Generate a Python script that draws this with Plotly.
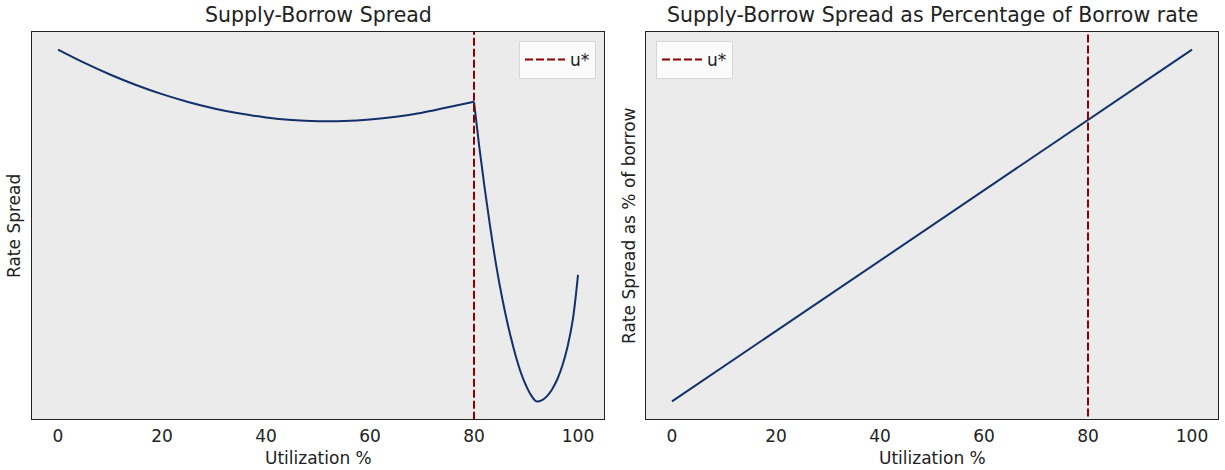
import plotly.graph_objects as go
from plotly.subplots import make_subplots

# ---- data (arbitrary spread units) ----
util_left_low = [0, 5, 10, 15, 20, 25, 30, 35, 40, 45, 50, 55, 60, 65, 70, 75, 80]
spread_left_low = [-0.481, -0.612, -0.731, -0.836, -0.928, -1.006, -1.071, -1.123, -1.162,
                   -1.187, -1.199, -1.198, -1.183, -1.155, -1.114, -1.059, -1.005]
util_left_high = [80, 81, 82, 83, 84, 85, 86, 87, 88, 89, 90, 91, 92, 93, 94, 95, 96, 97,
                  98, 99, 100]
spread_left_high = [-1.005, -1.45, -1.85, -2.22, -2.56, -2.86, -3.12, -3.35, -3.55, -3.72,
                    -3.85, -3.95, -4.01, -4.00, -3.96, -3.89, -3.79, -3.65, -3.46, -3.19,
                    -2.74]

util_right = [0, 20, 40, 60, 80, 100]
spread_pct_right = [-100.0, -82.0, -64.0, -46.0, -28.0, -10.0]

u_star = 80
x_ticks = [0, 20, 40, 60, 80, 100]

title_left = "Supply-Borrow Spread"
title_right = "Supply-Borrow Spread as Percentage of Borrow rate"
ylabel_left = "Rate Spread"
ylabel_right = "Rate Spread as % of borrow"
xlabel = "Utilization %"

# ---- figure ----
W, H = 1225, 470
FONT = "DejaVu Sans"
TXT = "#222222"
LINE_C = "#12306a"
DASH_C = "#8b0000"
BG = "#ebebeb"
FS = 17
FS_TITLE = 20.5


def px_x(p):
    return p / W


def px_y(p):
    return 1 - p / H


fig = make_subplots(rows=1, cols=2)

fig.add_trace(go.Scatter(x=util_left_low, y=spread_left_low, mode="lines",
                         line=dict(color=LINE_C, width=2, shape="spline"),
                         showlegend=False, hoverinfo="skip"), row=1, col=1)
fig.add_trace(go.Scatter(x=util_left_high, y=spread_left_high, mode="lines",
                         line=dict(color=LINE_C, width=2, shape="spline"),
                         showlegend=False, hoverinfo="skip"), row=1, col=1)
fig.add_trace(go.Scatter(x=util_right, y=spread_pct_right, mode="lines",
                         line=dict(color=LINE_C, width=2), showlegend=False,
                         hoverinfo="skip"), row=1, col=2)

all_left = spread_left_low + spread_left_high


def padded(vals, frac=0.05):
    lo, hi = min(vals), max(vals)
    pad = (hi - lo) * frac
    return lo - pad, hi + pad


yl = padded(all_left)
yr = padded(spread_pct_right)
xr = padded(util_left_low + util_left_high)


def vline_trace(ymin, ymax, xa, ya, legend):
    return go.Scatter(x=[u_star, u_star], y=[ymin, ymax], mode="lines",
                      line=dict(color=DASH_C, width=2, dash="8px,3px"),
                      name="u*", xaxis=xa, yaxis=ya, legend=legend,
                      hoverinfo="skip")


fig.add_trace(vline_trace(yl[0] - 1, yl[1] + 1, "x", "y", "legend"))
fig.add_trace(vline_trace(yr[0] - 50, yr[1] + 50, "x2", "y2", "legend2"))

left_dom = [px_x(32), px_x(604)]
right_dom = [px_x(646), px_x(1218)]
y_dom = [px_y(419), px_y(32)]

axis_common = dict(showgrid=False, zeroline=False, showline=True, linecolor=TXT,
                   linewidth=1, mirror=True, ticks="",
                   tickfont=dict(family=FONT, size=FS, color=TXT))

fig.update_xaxes(**axis_common, tickvals=x_ticks, range=list(xr), ticklabelstandoff=2)
fig.update_yaxes(**axis_common, showticklabels=False)
fig.update_layout(
    xaxis=dict(domain=left_dom),
    xaxis2=dict(domain=right_dom),
    yaxis=dict(domain=y_dom, range=list(yl)),
    yaxis2=dict(domain=y_dom, range=list(yr)),
)

legend_common = dict(bgcolor="rgba(255,255,255,0.8)", bordercolor="#d6d6d6", borderwidth=1,
                     font=dict(family=FONT, size=FS, color=TXT), itemwidth=40,
                     tracegroupgap=0)
fig.update_layout(
    width=W, height=H,
    margin=dict(l=0, r=0, t=0, b=0),
    paper_bgcolor="white",
    plot_bgcolor=BG,
    font=dict(family=FONT, size=FS, color=TXT),
    legend=dict(x=px_x(596), y=px_y(41), xanchor="right", yanchor="top", **legend_common),
    legend2=dict(x=px_x(656), y=px_y(41), xanchor="left", yanchor="top", **legend_common),
)


def label(text, x, y, size=FS, angle=0):
    return dict(text=text, x=px_x(x), y=px_y(y), xref="paper", yref="paper",
                showarrow=False, textangle=angle,
                font=dict(family=FONT, size=size, color=TXT),
                xanchor="center", yanchor="middle")


ann = [
    label(title_left, 318, 15, FS_TITLE),
    label(title_right, 932, 15, FS_TITLE),
    label(xlabel, 318, 458),
    label(xlabel, 932, 458),
    label(ylabel_left, 14, 226, angle=-90),
    label(ylabel_right, 629, 226, angle=-90),
]
fig.update_layout(annotations=ann)

fig.write_html("out.html")
